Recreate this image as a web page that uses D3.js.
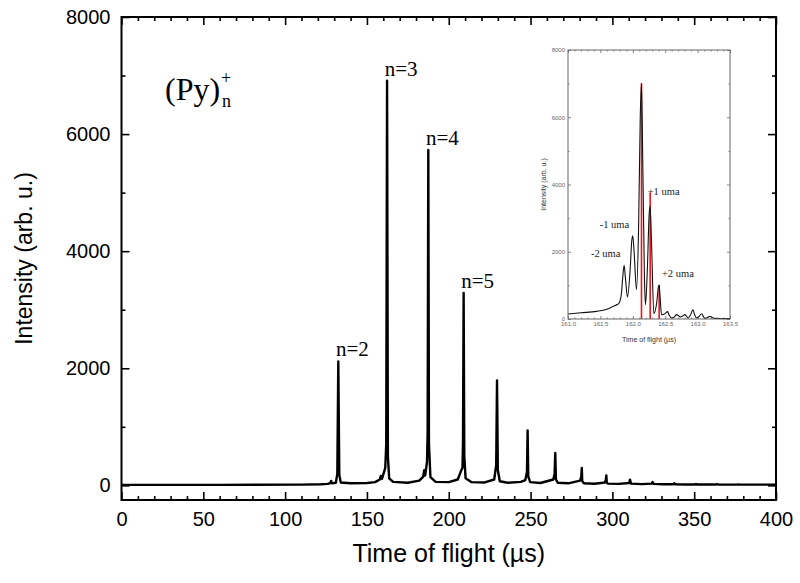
<!DOCTYPE html>
<html><head><meta charset="utf-8">
<script src="https://cdn.jsdelivr.net/npm/d3@7"></script>
<style>body{margin:0;background:#fff}svg{display:block}</style>
</head><body>
<svg id="c" width="800" height="583"></svg>
<script>
// ---------- main spectrum: [time of flight (µs), intensity (arb. u.)] ----------
const mainSpectrum = [
  [0, 8], [60, 8], [110, 12], [122, 18], [126, 25],
  [127.6, 40], [128.1, 75], [128.6, 35], [131, 45], [131.9, 200], [132.5, 2116], [133.1, 180], [134, 50],
  [140, 35], [150, 40], [155, 55], [157.8, 100], [158.5, 160], [159.2, 110], [161.2, 300], [161.8, 700], [162.3, 6910], [162.8, 500], [163.6, 120], [166, 60],
  [175, 45], [182, 80], [184.4, 150], [185, 260], [185.6, 170], [186.7, 400], [187.1, 900], [187.5, 5730], [187.9, 700], [188.8, 140], [192, 60],
  [200, 55], [205.5, 100], [207.4, 240], [208.4, 300], [208.7, 700], [209.1, 3288], [209.5, 500], [210.3, 120], [214, 55],
  [222, 50], [227.8, 100], [229.0, 350], [229.5, 1792], [230.0, 260], [231.2, 70], [236, 45],
  [244, 60], [246.8, 90], [247.8, 230], [248.2, 939], [248.6, 150], [249.8, 55], [256, 40],
  [263.9, 100], [264.7, 200], [265.1, 553], [265.5, 100], [266.6, 45], [273, 35],
  [280.3, 80], [281.0, 150], [281.3, 297], [281.6, 70], [282.6, 35], [289, 28],
  [295.5, 50], [296.0, 100], [296.3, 171], [296.6, 45], [297.3, 30], [304, 25],
  [310.2, 40], [310.8, 97], [311.4, 30], [318, 22],
  [324.1, 30], [324.6, 58], [325.1, 25], [331, 18],
  [337.3, 20], [337.8, 34], [338.3, 20], [344, 15],
  [350.6, 15], [351.1, 24], [351.6, 15], [363.6, 15], [364.1, 20], [364.6, 15],
  [376.5, 12], [377, 17], [377.5, 12], [400, 12]
];

const mainLabels = ["n=2", "n=3", "n=4", "n=5"];
const labelTof = [132.5, 162.3, 187.5, 209.1];
const labelInt = [2116, 6910, 5730, 3288];

const xTicksMain = [0, 50, 100, 150, 200, 250, 300, 350, 400];
const yTicksMain = [0, 2000, 4000, 6000, 8000];

// ---------- inset: n=3 peak detail [time of flight (µs), intensity] ----------
const insetSpectrum = [
  [161.0, 149], [161.2, 185], [161.44, 228], [161.6, 290], [161.70, 376], [161.76, 430], [161.79, 475],
  [161.825, 772], [161.845, 1250], [161.866, 1594], [161.885, 1250], [161.918, 653],
  [161.96, 1500], [161.985, 2350], [162.0, 2475], [162.02, 2000], [162.057, 871],
  [162.09, 2800], [162.115, 6000], [162.134, 7010], [162.155, 4500], [162.18, 1200], [162.196, 426],
  [162.225, 1500], [162.252, 3100], [162.268, 3350], [162.29, 2200], [162.325, 158],
  [162.37, 500], [162.395, 950], [162.407, 1010], [162.42, 700], [162.443, 130],
  [162.49, 150], [162.536, 218], [162.56, 120], [162.598, 30], [162.64, 60], [162.675, 130],
  [162.705, 100], [162.737, 60], [162.77, 90], [162.804, 130], [162.83, 80], [162.856, 30],
  [162.89, 120], [162.928, 277], [162.955, 120], [162.985, 30], [163.02, 70], [163.062, 158],
  [163.09, 70], [163.113, 20], [163.15, 40], [163.19, 80], [163.23, 40], [163.268, 20],
  [163.35, 15], [163.5, 10]
];

const stickTof = [162.134, 162.268, 162.407];
const stickInt = [7010, 3762, 1010];

const insetLabels = ["+1 uma", "-1 uma", "-2 uma", "+2 uma"];
const insetLabelTof = [162.23, 161.49, 161.355, 162.45];
const insetLabelInt = [3690, 2710, 1844, 1250];

const xTicksInset = [161.0, 161.5, 162.0, 162.5, 163.0, 163.5];
const yTicksInset = [0, 2000, 4000, 6000, 8000];

// ---------- drawing ----------
const svg = d3.select("#c");
const SANS = "'Liberation Sans', Arial, sans-serif";
const SERIF = "'Liberation Serif', 'Times New Roman', serif";

const x = d3.scaleLinear().domain([0, 400]).range([121.5, 776]);
const y = d3.scaleLinear().domain([-250, 8000]).range([500, 17]);

function styleAxis(g, fs, col) {
  g.select(".domain").remove();
  g.selectAll("line").attr("stroke", col || "#000");
  g.selectAll("text").attr("font-family", SANS).attr("font-size", fs).attr("fill", col || "#000");
}

const minorX = d3.range(0, 401, 10).filter(v => v % 50 !== 0);
const minorY = d3.range(0, 8001, 1000).filter(v => v % 2000 !== 0);
const addMain = (axis, tr, fs) => svg.append("g").attr("transform", tr).call(axis).call(g => styleAxis(g, fs)).selectAll("line").attr("stroke-width", 1.6);
addMain(d3.axisBottom(x).tickValues(minorX).tickSize(-4).tickFormat(""), "translate(0,500)", 0);
addMain(d3.axisTop(x).tickValues(minorX).tickSize(-4).tickFormat(""), "translate(0,17)", 0);
addMain(d3.axisLeft(y).tickValues(minorY).tickSize(-4).tickFormat(""), "translate(121.5,0)", 0);
addMain(d3.axisRight(y).tickValues(minorY).tickSize(-4).tickFormat(""), "translate(776,0)", 0);
addMain(d3.axisBottom(x).tickValues(xTicksMain).tickSize(-8).tickPadding(12).tickFormat(d3.format("d")), "translate(0,500)", 20);
addMain(d3.axisTop(x).tickValues(xTicksMain).tickSize(-8).tickFormat(""), "translate(0,17)", 0);
addMain(d3.axisLeft(y).tickValues(yTicksMain).tickSize(-8).tickPadding(11).tickFormat(d3.format("d")), "translate(121.5,0)", 20);
addMain(d3.axisRight(y).tickValues(yTicksMain).tickSize(-8).tickFormat(""), "translate(776,0)", 0);

// spectrum line
svg.append("path").datum(mainSpectrum)
  .attr("fill", "none").attr("stroke", "#000").attr("stroke-width", 2.4).attr("stroke-linejoin", "round")
  .attr("d", d3.line().x(d => x(d[0])).y(d => y(d[1])));

// frame
svg.append("rect").attr("x", 121.5).attr("y", 17).attr("width", 776 - 121.5).attr("height", 500 - 17)
  .attr("fill", "none").attr("stroke", "#000").attr("stroke-width", 2);

// axis titles
svg.append("text").attr("x", (121.5 + 776) / 2).attr("y", 562).attr("text-anchor", "middle")
  .attr("font-family", SANS).attr("font-size", 25).text("Time of flight (µs)");
svg.append("text").attr("transform", `translate(32,${(17 + 500) / 2}) rotate(-90)`).attr("text-anchor", "middle")
  .attr("font-family", SANS).attr("font-size", 23).text("Intensity (arb. u.)");

// peak labels
svg.selectAll(".pl").data(mainLabels).enter().append("text")
  .attr("x", (d, i) => x(labelTof[i]) + 14).attr("y", (d, i) => y(labelInt[i]) - 5)
  .attr("text-anchor", "middle").attr("font-family", SERIF).attr("font-size", 21).text(d => d);

// (Py)n+
const py = svg.append("text").attr("x", 165).attr("y", 100).attr("font-family", SERIF).attr("font-size", 32);
py.append("tspan").text("(Py)");
py.append("tspan").attr("x", 221).attr("y", 84).attr("font-size", 18).text("+");
py.append("tspan").attr("x", 222).attr("y", 107).attr("font-size", 18).text("n");

// ---------- inset ----------
const xi = d3.scaleLinear().domain([161, 163.5]).range([568, 730]);
const yi = d3.scaleLinear().domain([0, 8000]).range([319, 50]);
const IC = "#666";
const minorXi = d3.range(0, 26).map(k => 161 + k * 0.1).filter((v, k) => k % 5 !== 0);
const minorYi = [1000, 3000, 5000, 7000];
const ig = svg.append("g");
const addAx = (axis, tr, fs) => ig.append("g").attr("transform", tr).call(axis).call(g => styleAxis(g, fs, IC)).selectAll("line").attr("stroke-width", 0.8);
addAx(d3.axisBottom(xi).tickValues(minorXi).tickSize(-1.5).tickFormat(""), "translate(0,319)", 0);
addAx(d3.axisTop(xi).tickValues(minorXi).tickSize(-1.5).tickFormat(""), "translate(0,50)", 0);
addAx(d3.axisLeft(yi).tickValues(minorYi).tickSize(-1.5).tickFormat(""), "translate(568,0)", 0);
addAx(d3.axisRight(yi).tickValues(minorYi).tickSize(-1.5).tickFormat(""), "translate(730,0)", 0);
addAx(d3.axisBottom(xi).tickValues(xTicksInset).tickSize(-3).tickPadding(3).tickFormat(d3.format(".1f")), "translate(0,319)", 6);
addAx(d3.axisTop(xi).tickValues(xTicksInset).tickSize(-3).tickFormat(""), "translate(0,50)", 0);
addAx(d3.axisLeft(yi).tickValues(yTicksInset).tickSize(-3).tickPadding(3).tickFormat(d3.format("d")), "translate(568,0)", 6);
addAx(d3.axisRight(yi).tickValues(yTicksInset).tickSize(-3).tickFormat(""), "translate(730,0)", 0);

ig.selectAll(".stk").data(stickTof).enter().append("line")
  .attr("x1", d => xi(d)).attr("x2", d => xi(d))
  .attr("y1", yi(0)).attr("y2", (d, i) => yi(stickInt[i]))
  .attr("stroke", "#e8141c").attr("stroke-width", 1.6);

ig.append("path").datum(insetSpectrum)
  .attr("fill", "none").attr("stroke", "#111").attr("stroke-width", 1.1).attr("stroke-linejoin", "round")
  .attr("d", d3.line().curve(d3.curveMonotoneX).x(d => xi(d[0])).y(d => yi(d[1])));

ig.append("rect").attr("x", 568).attr("y", 50).attr("width", 730 - 568).attr("height", 319 - 50)
  .attr("fill", "none").attr("stroke", IC).attr("stroke-width", 1);

ig.selectAll(".il").data(insetLabels).enter().append("text")
  .attr("x", (d, i) => xi(insetLabelTof[i])).attr("y", (d, i) => yi(insetLabelInt[i]))
  .attr("font-family", SERIF).attr("font-size", 10.5).attr("fill", "#222").text(d => d);

ig.append("text").attr("x", 649).attr("y", 342).attr("text-anchor", "middle")
  .attr("font-family", SANS).attr("font-size", 7).attr("fill", "#333").text("Time of flight (µs)");
ig.append("text").attr("transform", `translate(546,${(50 + 319) / 2}) rotate(-90)`).attr("text-anchor", "middle")
  .attr("font-family", SANS).attr("font-size", 7).attr("fill", "#333").text("Intensity (arb. u.)");
</script>
</body></html>
